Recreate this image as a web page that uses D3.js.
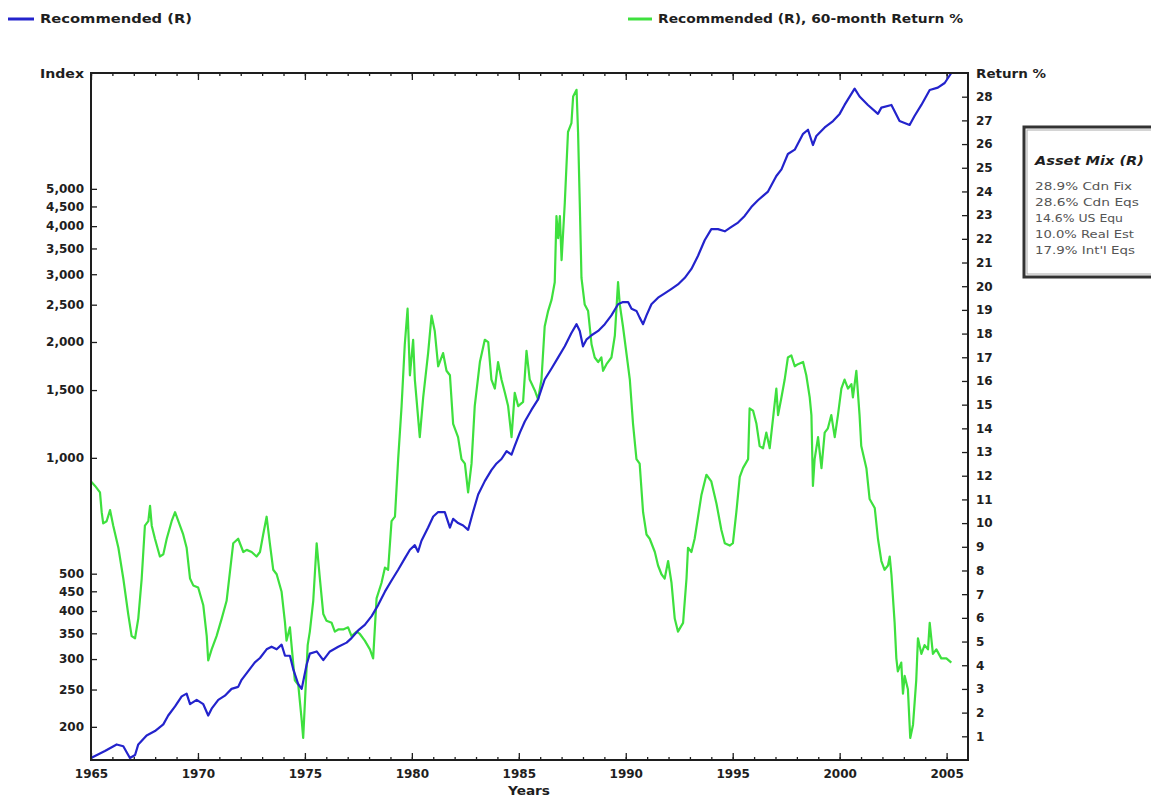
<!DOCTYPE html>
<html><head><meta charset="utf-8">
<script src="https://cdn.jsdelivr.net/npm/d3@7"></script>
<style>
body{margin:0;background:#fff;}
svg{display:block;background:#fff;}
</style></head><body>
<svg id="chart" width="1151" height="797"></svg>
<script>
// ---------- data ----------
const seriesNames = ["Recommended (R)", "Recommended (R), 60-month Return %"];

const indexYears = [1965.00,1965.65,1966.20,1966.51,1966.82,1967.06,1967.21,1967.60,1967.99,1968.38,
1968.61,1968.93,1969.24,1969.47,1969.63,1969.94,1970.25,1970.48,1970.64,1970.95,
1971.26,1971.57,1971.88,1972.04,1972.35,1972.66,1972.90,1973.21,1973.44,1973.68,
1973.91,1974.07,1974.30,1974.45,1974.69,1974.85,1975.08,1975.23,1975.55,1975.86,
1976.17,1976.56,1976.95,1977.18,1977.49,1977.80,1978.12,1978.43,1978.74,1979.05,
1979.36,1979.67,1979.91,1980.14,1980.29,1980.45,1980.76,1981.00,1981.23,1981.54,
1981.78,1981.93,1982.16,1982.40,1982.63,1982.86,1983.10,1983.41,1983.72,1983.96,
1984.19,1984.43,1984.66,1984.81,1985.05,1985.28,1985.59,1985.90,1986.21,1986.53,
1986.84,1987.15,1987.46,1987.70,1987.85,1988.00,1988.16,1988.40,1988.71,1989.02,
1989.33,1989.64,1989.87,1990.11,1990.27,1990.50,1990.65,1990.81,1990.97,1991.20,
1991.51,1991.82,1992.14,1992.44,1992.76,1993.07,1993.38,1993.69,1994.00,1994.31,
1994.63,1994.94,1995.25,1995.56,1995.87,1996.18,1996.65,1997.04,1997.28,1997.58,
1997.90,1998.29,1998.52,1998.75,1998.91,1999.30,1999.69,2000.00,2000.23,2000.70,
2000.93,2001.32,2001.79,2001.95,2002.42,2002.80,2003.27,2003.50,2003.82,2004.21,
2004.59,2004.91,2005.22];

const indexValues = [166,173,180,178,166,169,180,190,195,203,
214,226,240,244,229,235,229,214,223,235,
241,251,254,265,279,294,302,318,323,318,
327,306,306,283,258,251,290,310,314,298,
314,323,331,340,356,368,388,415,449,480,
512,548,577,593,570,609,659,704,723,723,
659,694,677,667,650,723,803,870,929,967,
993,1041,1019,1074,1163,1243,1332,1419,1598,1707,
1824,1949,2110,2225,2137,1949,2028,2082,2137,2225,
2345,2506,2539,2539,2440,2409,2314,2225,2345,2506,
2607,2676,2749,2822,2936,3096,3351,3677,3929,3929,
3878,3981,4087,4252,4484,4670,4920,5400,5620,6160,
6320,6950,7120,6500,6860,7220,7500,7830,8260,9110,
8690,8260,7830,8130,8260,7500,7330,7730,8260,9030,
9160,9420,10000];

const returnYears = [1965.00,1965.19,1965.42,1965.50,1965.57,1965.73,1965.89,1966.04,1966.28,1966.51,
1966.74,1966.90,1967.06,1967.21,1967.37,1967.52,1967.68,1967.76,1967.84,1967.99,
1968.22,1968.38,1968.54,1968.77,1968.93,1969.16,1969.31,1969.47,1969.63,1969.78,
1970.01,1970.25,1970.41,1970.48,1970.64,1970.87,1971.11,1971.34,1971.65,1971.88,
1972.12,1972.28,1972.51,1972.74,1972.90,1973.05,1973.21,1973.36,1973.52,1973.68,
1973.91,1974.07,1974.14,1974.30,1974.45,1974.53,1974.69,1974.85,1974.92,1975.13,
1975.23,1975.39,1975.55,1975.70,1975.86,1976.01,1976.25,1976.40,1976.56,1976.79,
1977.02,1977.18,1977.42,1977.57,1977.80,1978.04,1978.19,1978.35,1978.58,1978.74,
1978.89,1979.05,1979.21,1979.36,1979.52,1979.67,1979.80,1979.91,1980.06,1980.14,
1980.37,1980.53,1980.76,1980.92,1981.07,1981.23,1981.46,1981.62,1981.78,1981.93,
1982.16,1982.32,1982.48,1982.63,1982.79,1982.94,1983.18,1983.41,1983.57,1983.72,
1983.88,1984.03,1984.19,1984.35,1984.50,1984.66,1984.81,1984.97,1985.20,1985.36,
1985.51,1985.75,1985.90,1986.06,1986.21,1986.37,1986.53,1986.68,1986.76,1986.84,
1986.92,1987.00,1987.15,1987.30,1987.46,1987.54,1987.70,1987.77,1987.85,1987.93,
1988.08,1988.24,1988.40,1988.55,1988.71,1988.86,1988.94,1989.10,1989.33,1989.49,
1989.64,1989.72,1989.87,1990.03,1990.19,1990.34,1990.50,1990.65,1990.81,1990.97,
1991.12,1991.36,1991.51,1991.67,1991.82,1991.98,1992.14,1992.29,1992.44,1992.68,
1992.84,1992.91,1993.07,1993.22,1993.38,1993.54,1993.77,1994.00,1994.24,1994.47,
1994.63,1994.86,1995.01,1995.17,1995.33,1995.48,1995.72,1995.79,1995.95,1996.11,
1996.26,1996.42,1996.57,1996.73,1996.88,1997.04,1997.12,1997.28,1997.43,1997.58,
1997.74,1997.90,1998.05,1998.29,1998.44,1998.60,1998.68,1998.75,1998.83,1998.99,
1999.15,1999.30,1999.45,1999.61,1999.77,1999.92,2000.08,2000.23,2000.39,2000.55,
2000.62,2000.78,2000.93,2001.01,2001.25,2001.40,2001.64,2001.79,2001.95,2002.10,
2002.26,2002.34,2002.42,2002.57,2002.65,2002.72,2002.88,2002.96,2003.04,2003.19,
2003.30,2003.43,2003.58,2003.66,2003.82,2003.97,2004.13,2004.21,2004.36,2004.52,
2004.75,2004.99,2005.22];

const returnValues = [11.76,11.57,11.30,10.46,9.99,10.08,10.55,9.89,8.96,7.66,
6.16,5.23,5.14,5.97,7.66,9.89,10.08,10.73,9.89,9.34,
8.59,8.68,9.34,10.08,10.46,9.89,9.52,8.96,7.66,7.37,
7.28,6.53,5.23,4.20,4.67,5.23,5.97,6.72,9.15,9.34,
8.78,8.87,8.78,8.59,8.78,9.52,10.27,9.15,8.03,7.84,
7.10,5.79,5.04,5.60,4.11,3.36,3.17,1.68,0.93,4.85,
5.42,6.72,9.15,7.66,6.16,5.88,5.79,5.42,5.51,5.51,
5.60,5.23,5.42,5.32,5.04,4.67,4.29,6.82,7.47,8.12,
8.03,10.08,10.27,12.70,14.94,17.55,19.05,16.24,17.74,16.06,
13.63,15.31,17.18,18.76,18.11,16.62,17.18,16.43,16.24,14.19,
13.63,12.70,12.51,11.30,12.51,14.94,16.80,17.74,17.64,16.06,
15.68,16.80,16.06,15.50,14.94,13.63,15.50,14.94,15.12,17.27,
16.06,15.60,15.22,16.06,18.30,18.95,19.42,20.17,22.96,22.03,
22.96,21.10,23.52,26.51,26.88,28.01,28.29,26.51,23.52,20.35,
19.23,18.95,17.55,16.99,16.80,16.99,16.43,16.71,16.99,17.92,
20.17,19.23,18.30,17.18,16.06,14.19,12.70,12.51,10.46,9.52,
9.34,8.78,8.21,7.84,7.66,8.40,7.47,5.97,5.42,5.79,
7.66,8.96,8.78,9.34,10.27,11.20,12.04,11.76,10.83,9.71,
9.15,9.05,9.15,10.46,11.95,12.32,12.70,14.84,14.75,14.19,
13.25,13.16,13.82,13.16,14.38,15.68,14.56,15.31,16.06,16.99,
17.08,16.62,16.71,16.80,16.24,15.31,14.56,11.57,12.70,13.63,
12.32,13.82,14.00,14.56,13.63,14.56,15.68,16.06,15.68,15.87,
15.31,16.43,14.56,13.25,12.32,11.02,10.64,9.34,8.40,8.03,
8.21,8.59,7.84,5.79,4.29,3.74,4.11,2.80,3.55,2.99,
0.93,1.49,3.36,5.14,4.48,4.85,4.67,5.79,4.48,4.67,
4.29,4.29,4.11];

const indexTicks = [200,250,300,350,400,450,500,1000,1500,2000,2500,3000,3500,4000,4500,5000];
const returnTicks = [1,2,3,4,5,6,7,8,9,10,11,12,13,14,15,16,17,18,19,20,21,22,23,24,25,26,27,28];
const yearTicks = [1965,1970,1975,1980,1985,1990,1995,2000,2005];
const assetMixTitle = "Asset Mix (R)";
const assetMixLines = ["28.9% Cdn Fix","28.6% Cdn Eqs","14.6% US Equ","10.0% Real Est","17.9% Int'l Eqs"];

// ---------- drawing ----------
const BLUE = "#2323cc", GREEN = "#3ee03e", INK = "#1e1e1e";
const FONT = "'DejaVu Sans', sans-serif";
const svg = d3.select("#chart");
const L = 91, R = 968, T = 73, B = 760;

const x = d3.scaleLinear().domain([1965, 2006]).range([L, R]);
const yL = d3.scaleLog().domain([164, 10000]).range([B, T]);
const yR = d3.scaleLinear().domain([0, 29]).range([B, T]);

function styleAxis(g) {
  g.attr("font-family", FONT).attr("font-size", 12).attr("font-weight", "bold");
  g.select(".domain").remove();
  g.selectAll(".tick line").attr("stroke", INK).attr("stroke-width", 1.3);
  g.selectAll(".tick text").attr("fill", INK);
}

// minor year ticks (top & bottom)
const minorYears = d3.range(1965, 2006);
svg.append("g").attr("transform", `translate(0,${B})`)
  .call(d3.axisBottom(x).tickValues(minorYears).tickFormat("").tickSizeInner(-3).tickSizeOuter(0)).call(styleAxis);
svg.append("g").attr("transform", `translate(0,${T})`)
  .call(d3.axisTop(x).tickValues(minorYears).tickFormat("").tickSizeInner(-3).tickSizeOuter(0)).call(styleAxis);
// major year ticks
svg.append("g").attr("transform", `translate(0,${B})`)
  .call(d3.axisBottom(x).tickValues(yearTicks).tickFormat(d3.format("d")).tickSizeInner(-7).tickSizeOuter(0).tickPadding(9)).call(styleAxis);
svg.append("g").attr("transform", `translate(0,${T})`)
  .call(d3.axisTop(x).tickValues(yearTicks).tickFormat("").tickSizeInner(-7).tickSizeOuter(0)).call(styleAxis);
// left log axis
svg.append("g").attr("transform", `translate(${L},0)`)
  .call(d3.axisLeft(yL).tickValues(indexTicks).tickFormat(d3.format(",")).tickSizeInner(-6).tickSizeOuter(0).tickPadding(7)).call(styleAxis);
// right return axis
svg.append("g").attr("transform", `translate(${R},0)`)
  .call(d3.axisRight(yR).tickValues(returnTicks).tickFormat(d3.format("d")).tickSizeInner(-6).tickSizeOuter(0).tickPadding(8)).call(styleAxis);

// series
const clip = svg.append("clipPath").attr("id", "plotclip").append("rect")
  .attr("x", L).attr("y", T - 1).attr("width", R - L).attr("height", B - T + 2);
const retData = returnYears.map((t, i) => [t, returnValues[i]]);
const idxData = indexYears.map((t, i) => [t, indexValues[i]]);
svg.append("path").datum(retData)
  .attr("clip-path", "url(#plotclip)")
  .attr("d", d3.line().x(d => x(d[0])).y(d => yR(d[1])))
  .attr("fill", "none").attr("stroke", GREEN).attr("stroke-width", 2.2).attr("stroke-linejoin", "round");
svg.append("path").datum(idxData)
  .attr("clip-path", "url(#plotclip)")
  .attr("d", d3.line().x(d => x(d[0])).y(d => yL(d[1])))
  .attr("fill", "none").attr("stroke", BLUE).attr("stroke-width", 2.2).attr("stroke-linejoin", "round");

// frame
svg.append("rect").attr("x", L).attr("y", T).attr("width", R - L).attr("height", B - T)
  .attr("fill", "none").attr("stroke", INK).attr("stroke-width", 2);

// axis titles
const lbl = (tx, ty, s, anchor, len) => {
  const t = svg.append("text").attr("x", tx).attr("y", ty).text(s)
    .attr("font-family", FONT).attr("font-size", 12).attr("font-weight", "bold")
    .attr("fill", INK).attr("text-anchor", anchor || "start");
  if (len) t.attr("textLength", len).attr("lengthAdjust", "spacingAndGlyphs");
  return t;
};
lbl(84, 78, "Index", "end", 44);
lbl(976, 78, "Return %", "start", 70);
lbl(529, 795, "Years", "middle", 42);

// legend
svg.append("line").attr("x1", 8).attr("x2", 34).attr("y1", 19).attr("y2", 19)
  .attr("stroke", BLUE).attr("stroke-width", 3);
lbl(40, 23, seriesNames[0], "start", 152);
svg.append("line").attr("x1", 628).attr("x2", 652).attr("y1", 19).attr("y2", 19)
  .attr("stroke", GREEN).attr("stroke-width", 3);
lbl(658, 23, seriesNames[1], "start", 305);

// asset mix box
svg.append("rect").attr("x", 1024).attr("y", 127).attr("width", 140).attr("height", 150)
  .attr("fill", "#fff").attr("stroke", "#333").attr("stroke-width", 3);
svg.append("rect").attr("x", 1027).attr("y", 130).attr("width", 140).attr("height", 144)
  .attr("fill", "none").attr("stroke", "#aaa").attr("stroke-width", 1);
svg.append("text").attr("x", 1035).attr("y", 165).text(assetMixTitle)
  .attr("font-family", FONT).attr("font-size", 13).attr("font-weight", "bold").attr("font-style", "italic")
  .attr("fill", INK).attr("textLength", 109).attr("lengthAdjust", "spacingAndGlyphs");
const mixLens = [97, 104, 88, 99, 100];
svg.selectAll("text.mix").data(assetMixLines).join("text").attr("class", "mix")
  .attr("x", 1035).attr("y", (d, i) => 190 + i * 16).text(d => d)
  .attr("font-family", FONT).attr("font-size", 10).attr("fill", "#555")
  .attr("textLength", (d, i) => mixLens[i]).attr("lengthAdjust", "spacingAndGlyphs");
</script>
</body></html>
